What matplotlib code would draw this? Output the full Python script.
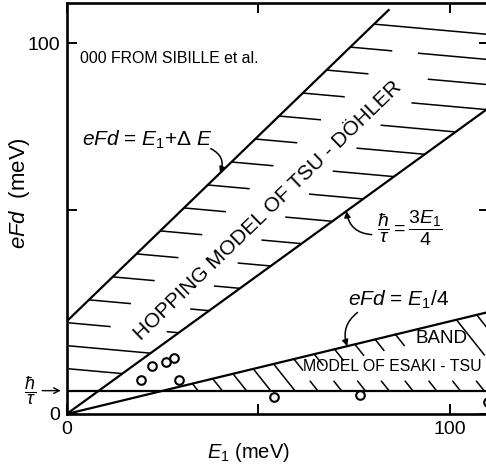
import numpy as np
import matplotlib
matplotlib.use("Agg")
import matplotlib.pyplot as plt
from matplotlib.transforms import blended_transform_factory

plt.rcParams['font.family'] = ['Liberation Sans', 'DejaVu Sans']
plt.rcParams['mathtext.fontset'] = 'custom'
plt.rcParams['mathtext.rm'] = 'Liberation Sans'
plt.rcParams['mathtext.it'] = 'Liberation Sans:italic'
plt.rcParams['mathtext.bf'] = 'Liberation Sans:bold'

# Regime boundaries (meV)
delta_E = 25.0        # eFd = E1 + dE
slope_mid = 0.75      # hbar/tau = 3 E1 / 4
slope_low = 0.25      # eFd = E1 / 4
hbar_tau = 6.3        # hbar/tau level
upper_end = 84.0      # where the E1 + dE line stops

# Measured points (Sibille et al.)
e1_pts = [19.4, 22.3, 25.9, 28.0, 29.3, 54.2, 76.5, 110.0]
efd_pts = [9.2, 13.0, 14.1, 15.0, 9.2, 4.7, 5.1, 3.2]

x_ticks = [0, 50, 100]
x_ticklabels = ['0', '', '100']
y_ticks = [0, 55, 100]
y_ticklabels = ['0', '', '100']

xmax, ymax = 110.2, 110.9

W, H, DPI = 486, 470, 100
fig = plt.figure(figsize=(W / DPI, H / DPI), dpi=DPI)
ax_rect = [66.7 / W, 56 / H, 422.3 / W, 411 / H]
ax = fig.add_axes(ax_rect)
ax.set_xlim(0, xmax)
ax.set_ylim(0, ymax)

kx = ax_rect[2] * W / xmax   # pixels per meV along x
ky = ax_rect[3] * H / ymax   # pixels per meV along y

lw = 1.6
hlw = 1.1
xs = np.array([0, xmax + 5])
ax.plot([0, upper_end], [delta_E, upper_end + delta_E], color='k', lw=lw, zorder=3)
ax.plot(xs, slope_mid * xs, color='k', lw=lw, zorder=3)
ax.plot(xs, slope_low * xs, color='k', lw=lw, zorder=3)
ax.plot(xs, [hbar_tau, hbar_tau], color='k', lw=lw, zorder=3)

# ---- hatching of the hopping region --------------------------------------
s_d = 0.09 * kx / ky                 # slight downward tilt of the hatch lines
text_slope = 1.0
text_c = 2.4                          # centre line of the rotated label: y = x + c
text_x0, text_x1 = 17.3, 87.7
half_gap = 22 / kx

def seg(xa, xb, x_s, y0):
    ax.plot([xa, xb], [y0 - s_d * (xa - x_s), y0 - s_d * (xb - x_s)],
            color='k', lw=hlw, zorder=2, solid_capstyle='butt')

for y0 in np.arange(12.2, 106, 6.2):
    x_s = max(y0 - delta_E, 0) + (2 / kx if y0 < delta_E else 0)
    x_e = min((y0 + s_d * x_s) / (slope_mid + s_d), xmax + 1)
    L = (x_e - x_s) * kx
    x_t = (y0 + s_d * x_s - text_c) / (text_slope + s_d)
    crosses_text = text_x0 - 2 < x_t < text_x1 + 2 and x_s < x_t < x_e
    if L <= 130 and not crosses_text:
        seg(x_s, x_e, x_s, y0)
        continue
    a_end = x_s + 42 / kx
    b_start = x_e - 75 / kx
    if crosses_text:
        a_end = min(a_end, x_t - half_gap)
        b_start = max(b_start, x_t + half_gap)
    if a_end > x_s:
        seg(x_s, a_end, x_s, y0)
    if x_e > b_start:
        seg(b_start, x_e, x_s, y0)

# ---- hatching of the Esaki-Tsu band ---------------------------------------
dxp, dyp = 0.62, 0.78
for xa in np.arange(32.8, xmax + 1, 5.3):
    ya = slope_low * xa
    t_full = (ya - hbar_tau) * ky / dyp
    if xa < 57:
        t = t_full
    elif xa < 87:
        t = 14
    elif xa < 100:
        continue
    else:
        t = min(45, t_full)
    ax.plot([xa, xa + t * dxp / kx], [ya, ya - t * dyp / ky],
            color='k', lw=hlw, zorder=2)
for xb in np.arange(65.5, xmax + 1, 6.2):
    t = 12
    ax.plot([xb - t * dxp / kx, xb], [hbar_tau + t * dyp / ky, hbar_tau],
            color='k', lw=hlw, zorder=2)

# ---- data points -----------------------------------------------------------
ax.plot(e1_pts, efd_pts, 'o', ms=6.2, mfc='white', mec='k', mew=1.5,
        zorder=4, clip_on=False)

# ---- axes styling ----------------------------------------------------------
for sp in ax.spines.values():
    sp.set_linewidth(1.9)
ax.set_xticks(x_ticks)
ax.set_xticklabels(x_ticklabels)
ax.set_yticks(y_ticks)
ax.set_yticklabels(y_ticklabels)
ax.tick_params(direction='in', length=7, width=1.4, top=True, right=True,
               labelsize=14, pad=5)

fig.text(20 / W, 1 - 193 / H, r'$eFd$  (meV)', rotation=90,
         ha='center', va='center', fontsize=16)
fig.text(248 / W, 1 - 453 / H, r'$E_1$ (meV)', ha='center', va='center',
         fontsize=14.5)

blend = blended_transform_factory(ax.transAxes, ax.transData)
ax.text(-0.087, hbar_tau, r'$\dfrac{\hbar}{\tau}$', transform=blend,
        ha='center', va='center', fontsize=13)
ax.annotate('', xy=(-0.014, hbar_tau), xytext=(-0.058, hbar_tau),
            xycoords=blend, textcoords=blend, annotation_clip=False,
            arrowprops=dict(arrowstyle='->', lw=1.0, color='k',
                            shrinkA=0, shrinkB=0))

# ---- annotations -----------------------------------------------------------
ax.text(3.5, 96, '000 FROM SIBILLE et al.', ha='left', va='center',
        fontsize=11.4)
ax.text(4.0, 73.9, r'$eFd$ = $E_1$+Δ $E$', ha='left', va='center',
        fontsize=15)
ax.annotate('', xy=(40, 65), xytext=(37.6, 71.6),
            arrowprops=dict(arrowstyle='-|>', lw=1.1, color='k',
                            mutation_scale=9, shrinkA=0, shrinkB=0,
                            connectionstyle='arc3,rad=-0.45'))

rot = np.degrees(np.arctan(text_slope * ky / kx))
ax.text(52.6, 55.0, 'HOPPING MODEL OF TSU - DÖHLER', rotation=rot,
        rotation_mode='anchor', ha='center', va='center', fontsize=15)

ax.text(89.5, 50.0, r'$\dfrac{\hbar}{\tau} = \dfrac{3E_1}{4}$', ha='center',
        va='center', fontsize=14)
ax.annotate('', xy=(73.0, slope_mid * 73.0), xytext=(79.6, 48.4),
            arrowprops=dict(arrowstyle='-|>', lw=1.1, color='k',
                            mutation_scale=9, shrinkA=0, shrinkB=0,
                            connectionstyle='arc3,rad=-0.4'))

ax.text(86.5, 30.8, r'$eFd$ = $E_1$/4', ha='center', va='center',
        fontsize=15)
ax.annotate('', xy=(73.2, slope_low * 73.2), xytext=(75.9, 27.4),
            arrowprops=dict(arrowstyle='-|>', lw=1.1, color='k',
                            mutation_scale=9, shrinkA=0, shrinkB=0,
                            connectionstyle='arc3,rad=0.35'))

ax.text(97.7, 20.5, 'BAND', ha='center', va='center', fontsize=13.5)
ax.text(84.9, 12.7, 'MODEL OF ESAKI - TSU', ha='center', va='center',
        fontsize=11.4)

fig.savefig('out.png', dpi=DPI)
